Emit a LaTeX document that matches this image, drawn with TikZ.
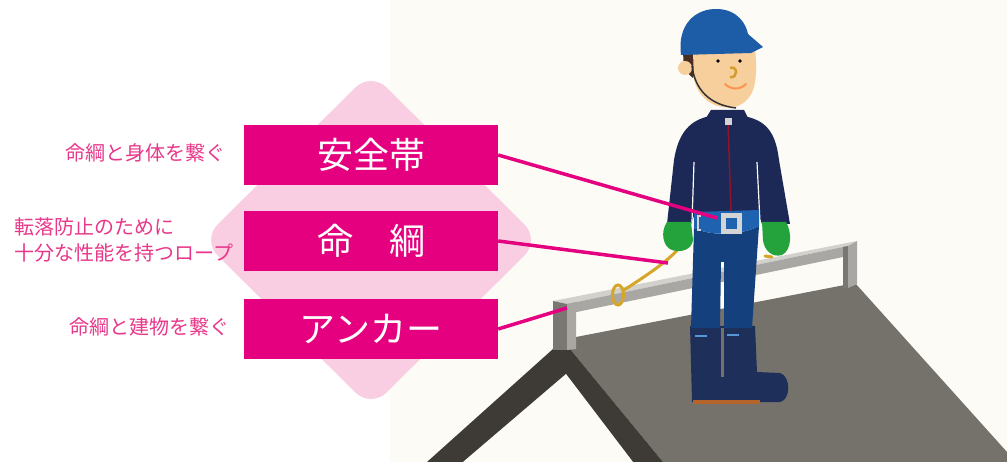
\documentclass[tikz,border=0pt]{standalone}
\usepackage{fontspec}
\newfontfamily\jp{Noto Sans CJK JP}
\usepackage{tikz}
\usetikzlibrary{positioning}

\definecolor{cream}{HTML}{FCFBF5}
\definecolor{magenta}{HTML}{E4007F}
\definecolor{pinkbg}{HTML}{F9CEE2}
\definecolor{labelpink}{HTML}{E8388A}
\definecolor{roofgrey}{HTML}{75726C}
\definecolor{fascia}{HTML}{3E3B37}
\definecolor{railface}{HTML}{A9A7A3}
\definecolor{railtop}{HTML}{D3D1CC}
\definecolor{postdark}{HTML}{7A7772}
\definecolor{helmet}{HTML}{1D5CA6}
\definecolor{skin}{HTML}{F7CF9C}
\definecolor{hair}{HTML}{4A2E22}
\definecolor{jacket}{HTML}{1C2856}
\definecolor{beltblue}{HTML}{1F62B0}
\definecolor{buckle}{HTML}{D4D4D4}
\definecolor{pants}{HTML}{14407E}
\definecolor{glove}{HTML}{24A23C}
\definecolor{boot}{HTML}{1E2F59}
\definecolor{sole}{HTML}{B5652B}
\definecolor{rope}{HTML}{D6A62A}

\begin{document}
\begin{tikzpicture}[x=1pt, y=-1pt,
  box/.style={fill=magenta, text=white, minimum width=254pt, minimum height=60pt, inner sep=0pt, font=\jp\fontsize{36}{40}\selectfont},
  lbl/.style={text=labelpink, inner sep=0pt, font=\jp\fontsize{20}{26}\selectfont},
  link/.style={magenta, line width=3.5pt},
  rope line/.style={rope, line width=3pt, line cap=round}]
\useasboundingbox (0,0) rectangle (1007,462);
\fill[white] (0,0) rectangle (390,462);
\fill[cream] (390,0) rectangle (1007,462);

% Diamond behind the boxes
\fill[pinkbg, rounded corners=22pt] (371,72) -- (540,240) -- (371,408) -- (202,240) -- cycle;

% Boxes
\node[box] (belt) at (371,155) {安全帯};
\node[box] (lifeline) at (371,241) {命　綱};
\node[box] (anchor) at (371,329) {アンカー};

% Labels
\node[lbl, anchor=east] (belttxt) at (226,153) {命綱と身体を繋ぐ};
\node[lbl, anchor=west, align=left] (lifelinetxt) at (14,240) {転落防止のために\\十分な性能を持つロープ};
\node[lbl, anchor=east] (anchortxt) at (230,327) {命綱と建物を繋ぐ};

% Roof
\fill[roofgrey] (570,349) -- (576,337) -- (855,283) -- (1007,452) -- (1007,462) -- (663,462) -- cycle;
\fill[fascia] (427,462) -- (553,349) -- (570,349) -- (663,462) -- cycle;
\fill[cream] (463,462) -- (566,374) -- (633,462) -- cycle;

% Rail and posts
\fill[railtop] (553,301) -- (857,241) -- (848,246) -- (567,304) -- cycle;
\fill[railface] (567,304) -- (848,246) -- (848,256) -- (567,314) -- cycle;
\fill[postdark] (553,301) -- (567,304) -- (567,350) -- (553,350) -- cycle;
\fill[railface] (567,304) -- (576,302) -- (576,349) -- (567,350) -- cycle;
\fill[postdark] (843,247) -- (848,246) -- (848,288) -- (843,289) -- cycle;
\fill[railface] (848,246) -- (857,241) -- (857,284) -- (848,288) -- cycle;

% Rope hooked on the rail
\draw[rope line] (686,236) .. controls (682,252) and (652,272) .. (624,290);
\draw[rope line] (618,295) ellipse [x radius=5.5pt, y radius=10pt];

% Worker: boots and legs
\fill[boot] (690,326) -- (755,326) -- (757,372) -- (780,373) .. controls (791,376) and (791,400) .. (780,402) -- (692,402) -- cycle;
\fill[roofgrey] (721,328) rectangle (724,377);
\fill[sole] (693,400) rectangle (760,404);
\draw[cyan!60!blue!70, line width=2pt] (695,336) -- (707,336) (727,335) -- (739,335);
\fill[pants] (694,228) .. controls (710,236) and (740,236) .. (759,226) -- (752,328) -- (724,328) -- (724,262) -- (721,262) -- (720,328) -- (691,328) -- cycle;

% Worker: jacket, belt, gloves
\fill[jacket] (706,117) -- (748,117) .. controls (768,122) and (776,135) .. (779,160) -- (790,224) -- (762,224) -- (759,216) -- (694,216) -- (691,224) -- (667,224) -- (674,160) .. controls (678,135) and (688,122) .. (706,117) -- cycle;
\draw[cream, line width=1.2pt] (694,162) -- (692,222) (757,162) -- (760,222);
\draw[red!50!jacket, line width=1.5pt] (728,122) -- (731,212);
\fill[buckle] (725,112) rectangle (732,125);
\fill[beltblue] (694,212) -- (759,210) -- (759,226) .. controls (740,236) and (710,236) .. (694,228) -- cycle;
\fill[buckle] (721,213) rectangle (742,234);
\fill[beltblue] (726,218) rectangle (737,229);
\draw[buckle, line width=2pt] (701,216) -- (698,216) -- (698,230) -- (701,230);
\fill[glove] (667,222) -- (691,222) -- (693,240) .. controls (692,250) and (680,253) .. (672,250) .. controls (663,247) and (660,232) .. (667,222) -- cycle;
\fill[glove] (762,222) -- (786,222) .. controls (792,232) and (792,250) .. (782,255) .. controls (772,258) and (764,250) .. (763,240) -- cycle;
\draw[rope line] (765,256) -- (772,257);

% Worker: head
\fill[jacket] (711,110) -- (744,110) -- (748,118) -- (706,118) -- cycle;
\fill[hair] (683,52) -- (702,52) -- (693,78) -- (684,70) -- cycle;
\fill[skin] (685,68) circle (7pt);
\fill[skin] (693,52) -- (755,48) .. controls (758,80) and (756,100) .. (735,107) .. controls (715,110) and (700,100) .. (694,80) -- cycle;
\draw[black!80, line width=1.5pt] (692,66) .. controls (695,90) and (710,105) .. (736,108);
\fill[black] (718,61) circle (1.8pt) (740,61) circle (1.8pt);
\draw[rope!80!brown, line width=2.5pt] (730,68) .. controls (738,65) and (738,79) .. (730,77);
\draw[red!30!orange!50!skin, line width=2pt, line cap=round] (725,84) .. controls (731,90) and (740,90) .. (746,84);
\fill[helmet] (681,55) .. controls (677,25) and (695,8) .. (718,9) .. controls (738,10) and (746,24) .. (748,34) -- (763,47) -- (751,53) -- cycle;

% Connectors
\coordinate (buckle) at (717,218);
\coordinate (ropept) at (668,263);
\coordinate (postpt) at (567,308);
\draw[link] (belt.east) -- (buckle);
\draw[link] (lifeline.east) -- (ropept);
\draw[link] (anchor.east) -- (postpt);
\end{tikzpicture}
\end{document}
